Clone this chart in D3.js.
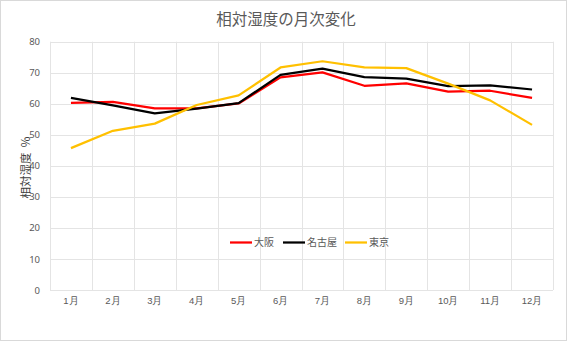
<!DOCTYPE html>
<html>
<head>
<meta charset="utf-8">
<script src="https://cdn.jsdelivr.net/npm/d3@7"></script>
<style>
  html, body { margin: 0; padding: 0; background: #fff; }
  svg { display: block; font-family: "Noto Sans CJK JP", "Noto Sans", sans-serif; }
</style>
</head>
<body>
<svg id="chart" width="567" height="341"></svg>
<script>
// Monthly mean relative humidity (%)
const months = ["1月","2月","3月","4月","5月","6月","7月","8月","9月","10月","11月","12月"];
const osaka  = [60.3, 60.6, 58.5, 58.5, 60.1, 68.5, 70.1, 65.8, 66.6, 63.9, 64.2, 61.9];
const nagoya = [61.9, 59.5, 56.9, 58.4, 60.2, 69.3, 71.3, 68.6, 68.1, 65.7, 65.9, 64.6];
const tokyo  = [45.7, 51.3, 53.6, 59.6, 62.7, 71.7, 73.7, 71.7, 71.5, 66.5, 61.1, 53.2];
const seriesNames = ["大阪", "名古屋", "東京"];
const seriesColors = ["#FF0000", "#000000", "#FFC000"];
const yTicks = [0, 10, 20, 30, 40, 50, 60, 70, 80];

const series = [osaka, nagoya, tokyo].map((values, i) => ({
  name: seriesNames[i], color: seriesColors[i], values
}));

const W = 567, H = 341;
const plot = { left: 50, right: 553, top: 41.7, bottom: 290 };
const svg = d3.select("#chart");

// outer chart frame
svg.append("rect")
  .attr("x", 0.5).attr("y", 0.5).attr("width", W - 1).attr("height", H - 1)
  .attr("fill", "#fff").attr("stroke", "#d9d9d9");

const x = d3.scaleBand().domain(months).range([plot.left, plot.right]).padding(0);
const y = d3.scaleLinear().domain([0, 80]).range([plot.bottom, plot.top]);

const grid = svg.append("g").attr("stroke", "#e4e4e4").attr("stroke-width", 1);
// horizontal gridlines
grid.selectAll("line.h").data(yTicks).join("line")
  .attr("x1", plot.left).attr("x2", plot.right)
  .attr("y1", d => Math.round(y(d)) + 0.5).attr("y2", d => Math.round(y(d)) + 0.5);
// vertical gridlines at category boundaries
const bounds = months.map(m => x(m)).concat([plot.right]);
grid.selectAll("line.v").data(bounds).join("line")
  .attr("y1", plot.top).attr("y2", plot.bottom)
  .attr("x1", d => Math.round(d) + 0.5).attr("x2", d => Math.round(d) + 0.5);

// y axis labels
const yAxis = d3.axisLeft(y).tickValues(yTicks).tickSize(0).tickPadding(10);
const gy = svg.append("g").attr("transform", `translate(${plot.left},0)`).call(yAxis);
gy.select(".domain").remove();
gy.selectAll("text").attr("fill", "#595959").attr("font-size", 9.5)
  .attr("font-family", "'Noto Sans', sans-serif");

// x axis labels
const xAxis = d3.axisBottom(x).tickSize(0).tickPadding(7);
const gx = svg.append("g").attr("transform", `translate(0,${plot.bottom})`).call(xAxis);
gx.select(".domain").remove();
gx.selectAll("text").attr("fill", "#595959").attr("font-size", 9.5);

// lines
const line = d3.line()
  .x((d, i) => x(months[i]) + x.bandwidth() / 2)
  .y(d => y(d));
svg.append("g").selectAll("path").data(series).join("path")
  .attr("fill", "none")
  .attr("stroke", d => d.color)
  .attr("stroke-width", 2.25)
  .attr("stroke-linejoin", "round")
  .attr("d", d => line(d.values));

// title
svg.append("text")
  .attr("x", 286).attr("y", 25)
  .attr("text-anchor", "middle")
  .attr("fill", "#595959").attr("font-size", 15.5)
  .text("相対湿度の月次変化");

// y axis title
svg.append("text")
  .attr("transform", `translate(30,167.5) rotate(-90)`)
  .attr("text-anchor", "middle")
  .attr("fill", "#404040").attr("font-size", 11.5)
  .text("相対湿度 \u00a0%");

// legend
const legendX = [230, 283, 345];
const lg = svg.append("g").selectAll("g").data(series).join("g")
  .attr("transform", (d, i) => `translate(${legendX[i]},242.5)`);
lg.append("line").attr("x1", 0).attr("x2", 22).attr("y1", 0).attr("y2", 0)
  .attr("stroke", d => d.color).attr("stroke-width", 2.25);
lg.append("text").attr("x", 24).attr("y", 3.5)
  .attr("fill", "#595959").attr("font-size", 10)
  .text(d => d.name);
</script>
</body>
</html>
